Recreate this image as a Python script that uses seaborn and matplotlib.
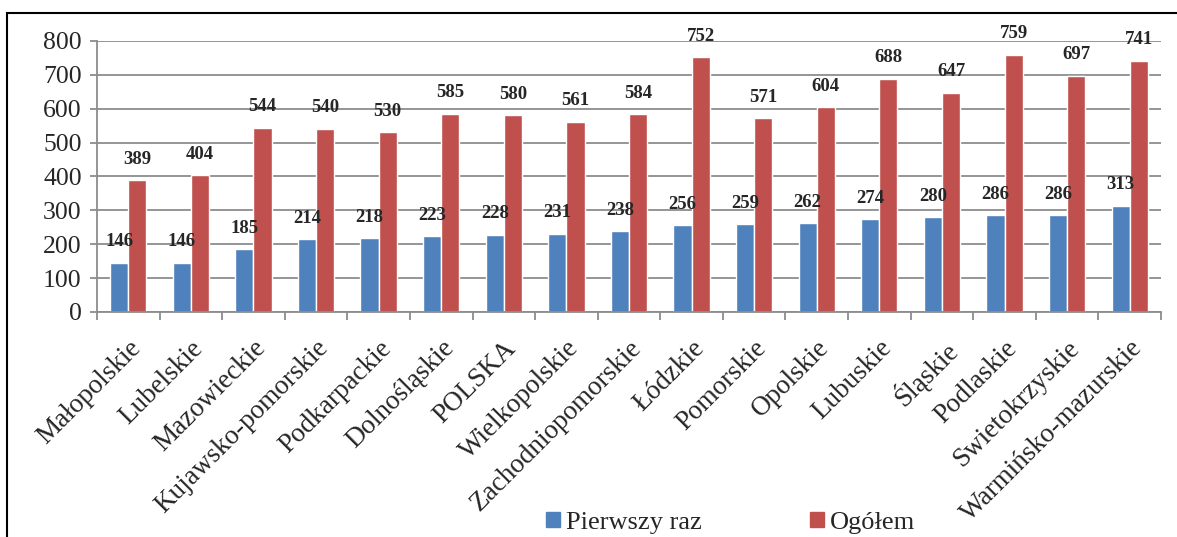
import matplotlib
matplotlib.use("Agg")
import matplotlib.pyplot as plt
import matplotlib.patches as mpatches
import pandas as pd
import seaborn as sns

regions = ["Małopolskie", "Lubelskie", "Mazowieckie", "Kujawsko-pomorskie",
           "Podkarpackie", "Dolnośląskie", "POLSKA", "Wielkopolskie",
           "Zachodniopomorskie", "Łódzkie", "Pomorskie", "Opolskie",
           "Lubuskie", "Śląskie", "Podlaskie", "Swietokrzyskie",
           "Warmińsko-mazurskie"]
pierwszy_raz = [146, 146, 185, 214, 218, 223, 228, 231, 238, 256, 259, 262,
                274, 280, 286, 286, 313]
ogolem = [389, 404, 544, 540, 530, 585, 580, 561, 584, 752, 571, 604,
          688, 647, 759, 697, 741]
series_names = ["Pierwszy raz", "Ogółem"]
colors = ["#4F81BD", "#C0504D"]

df = pd.concat([
    pd.DataFrame({"region": regions, "value": pierwszy_raz, "series": series_names[0]}),
    pd.DataFrame({"region": regions, "value": ogolem, "series": series_names[1]}),
], ignore_index=True)

sns.set_style("white")
plt.rcParams["font.family"] = ["Liberation Serif", "DejaVu Serif"]

fig = plt.figure(figsize=(11.77, 5.37), dpi=100)
ax = fig.add_axes([0.0824, 0.419, 0.904, 0.505])

sns.barplot(data=df, x="region", y="value", hue="series", palette=colors,
            width=0.58, gap=0, saturation=1, ax=ax, legend=False)

for cont in ax.containers:
    ax.bar_label(cont, padding=9, fontsize=13.5, fontweight="bold")

ax.set_ylim(0, 800)
ax.set_xlim(-0.5, len(regions) - 0.5)
ax.set_yticks(range(0, 801, 100))
ax.yaxis.grid(True, color="#8c8c8c", linewidth=1.3)
ax.set_axisbelow(True)
ax.set_xlabel("")
ax.set_ylabel("")

for side in ["top", "right"]:
    ax.spines[side].set_visible(False)
for side in ["left", "bottom"]:
    ax.spines[side].set_color("#8c8c8c")
    ax.spines[side].set_linewidth(1.3)

ax.tick_params(axis="y", labelsize=18.5, length=5, width=1.3, color="#8c8c8c",
               direction="out", left=True, pad=6)
ax.set_xticks(range(len(regions)))
ax.set_xticklabels(regions, rotation=45, ha="right", rotation_mode="anchor",
                   fontsize=19.5)
ax.tick_params(axis="x", length=0, pad=17)
# category boundary ticks
ax.set_xticks([i - 0.5 for i in range(len(regions) + 1)], minor=True)
ax.tick_params(axis="x", which="minor", length=6, color="#8c8c8c", width=1.3,
               bottom=True, direction="out")

handles = [mpatches.Patch(color=c, label=n) for c, n in zip(colors, series_names)]
fig.legend(handles=handles, loc="center", bbox_to_anchor=(0.621, 0.026),
           ncol=2, frameon=False, fontsize=19, handlelength=0.5,
           handleheight=0.5, handletextpad=0.25, columnspacing=4.1)

fig.patches.append(mpatches.Rectangle((0.006, -0.05), 1.2, 1.05 - 0.024,
                                      transform=fig.transFigure, fill=False,
                                      edgecolor="black", linewidth=1.5))

fig.savefig("out.png", dpi=100)
